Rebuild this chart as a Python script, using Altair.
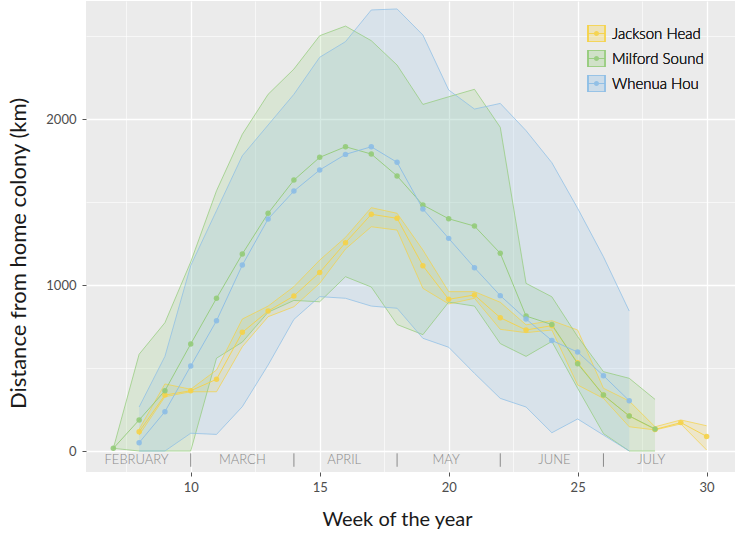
import altair as alt
import pandas as pd

# Sites and their colours
sites = ["Jackson Head", "Milford Sound", "Whenua Hou"]
site_colors = ["#F5D247", "#93CB79", "#8CBDE6"]

# Weekly mean distance from colony (km) and the band around it
jh_weeks = list(range(8, 31))
jh_mean = [116, 337, 363, 432, 715, 843, 934, 1076, 1255, 1426, 1402, 1116, 914, 940, 803, 729, 755, 532, 337, 211, 130, 171, 88]
jh_lo = [96, 327, 357, 357, 628, 809, 869, 1010, 1217, 1351, 1331, 980, 886, 920, 733, 713, 729, 398, 317, 146, 127, 163, 6]
jh_hi = [131, 404, 372, 488, 795, 873, 990, 1150, 1287, 1466, 1432, 1211, 960, 960, 896, 760, 785, 729, 378, 301, 146, 187, 152]

ms_weeks = list(range(7, 29))
ms_mean = [16, 187, 363, 645, 920, 1187, 1432, 1632, 1769, 1833, 1789, 1657, 1482, 1399, 1355, 1191, 813, 762, 526, 337, 211, 133]
ms_lo = [16, 0, 0, 0, 559, 656, 836, 907, 899, 1050, 988, 762, 701, 897, 873, 647, 570, 660, 378, 105, 0, 0]
ms_hi = [16, 583, 773, 1139, 1568, 1908, 2149, 2301, 2502, 2560, 2472, 2325, 2088, 2134, 2179, 1950, 1010, 929, 689, 478, 438, 311]

wh_weeks = list(range(8, 28))
wh_mean = [50, 237, 512, 785, 1120, 1398, 1566, 1693, 1787, 1833, 1739, 1458, 1281, 1104, 936, 795, 666, 596, 454, 303]
wh_lo = [0, 0, 107, 100, 267, 518, 793, 930, 920, 873, 860, 679, 625, 468, 317, 265, 110, 193, 96, 0]
wh_hi = [265, 570, 1117, 1448, 1779, 1964, 2149, 2372, 2466, 2657, 2663, 2506, 2175, 2060, 2094, 1930, 1737, 1462, 1170, 843]

# Month strip along the bottom of the panel
months = ["FEBRUARY", "MARCH", "APRIL", "MAY", "JUNE", "JULY"]
month_mid = [7.9, 12.0, 15.95, 19.9, 24.1, 27.85]
month_breaks = [10, 14, 18, 22, 26]

x_ticks = [7.5, 10, 12.5, 15, 17.5, 20, 22.5, 25, 27.5, 30]
y_ticks = [0, 500, 1000, 1500, 2000, 2500]

rows = []
for site, weeks, mean, lo, hi in [
    (sites[0], jh_weeks, jh_mean, jh_lo, jh_hi),
    (sites[1], ms_weeks, ms_mean, ms_lo, ms_hi),
    (sites[2], wh_weeks, wh_mean, wh_lo, wh_hi),
]:
    for w, m, l, h in zip(weeks, mean, lo, hi):
        rows.append({"week": w, "mean": m, "lo": l, "hi": h,
                     "site": site, "site_f": site, "site_c": site})
df = pd.DataFrame(rows)

months_df = pd.DataFrame({"month": months, "week": month_mid})
breaks_df = pd.DataFrame({"week": month_breaks})

FONT = "Lato"
X_DOMAIN = [5.94, 31.1]
Y_DOMAIN = [-126.5, 2711]

x_axis = alt.Axis(
    values=x_ticks,
    labelExpr="datum.value % 5 === 0 ? datum.label : ''",
    gridColor="white",
    gridWidth={"condition": {"test": "datum.value % 5 === 0", "value": 1.3}, "value": 0.6},
    tickOpacity={"condition": {"test": "datum.value % 5 === 0", "value": 1}, "value": 0},
    domain=False, tickColor="#555555", tickSize=4,
    labelFont=FONT, labelFontSize=13, labelColor="#4d4d4d", labelPadding=5,
    title="Week of the year", titleFont=FONT, titleFontSize=20,
    titleFontWeight="normal", titleColor="#1a1a1a",
    titleX=311, titleY=53, titleBaseline="alphabetic",
)
y_axis = alt.Axis(
    values=y_ticks,
    labelExpr="datum.value % 1000 === 0 ? datum.label : ''",
    gridColor="white",
    gridWidth={"condition": {"test": "datum.value % 1000 === 0", "value": 1.3}, "value": 0.6},
    tickOpacity={"condition": {"test": "datum.value % 1000 === 0", "value": 1}, "value": 0},
    domain=False, tickColor="#555555", tickSize=4, format="d",
    labelFont=FONT, labelFontSize=13, labelColor="#4d4d4d", labelPadding=6,
    title="Distance from home colony (km)", titleFont=FONT, titleFontSize=22,
    titleFontWeight="normal", titleColor="#1a1a1a",
    titleX=-68, titleY=252, titleBaseline="middle",
)

x = alt.X("week:Q", scale=alt.Scale(domain=X_DOMAIN, nice=False, zero=False), axis=x_axis)
y_scale = alt.Scale(domain=Y_DOMAIN, nice=False, zero=False)

legend_common = dict(
    orient="none", legendX=501, legendY=24, title=None, padding=0,
    symbolSize=289, rowPadding=8, labelOffset=6, clipHeight=17,
    labelFont=FONT, labelFontSize=15, labelFontWeight=300,
)

# outlined squares carry the site names
stroke_enc = alt.Stroke(
    "site:N", scale=alt.Scale(range=site_colors),
    legend=alt.Legend(symbolType="square", symbolStrokeWidth=1.2,
                      labelColor="#1a1a1a", **legend_common),
)
# translucent square fill
fill_enc = alt.Fill(
    "site_f:N", scale=alt.Scale(range=site_colors),
    legend=alt.Legend(symbolType="square", symbolOpacity=0.3, symbolStrokeWidth=0,
                      labelExpr="''", **legend_common),
)
# legend glyph: a dot on a short horizontal stroke
dot_path = ("M-1,-1M1,1"
            "M-1,-0.06L1,-0.06L1,0.06L-1,0.06Z"
            "M0.3,0A0.3,0.3,0,1,1,-0.3,0A0.3,0.3,0,1,1,0.3,0Z")
color_enc = alt.Color(
    "site_c:N", scale=alt.Scale(range=site_colors),
    legend=alt.Legend(symbolType=dot_path, labelExpr="''", **legend_common),
)

base = alt.Chart(df)

band = base.mark_area(fillOpacity=0.2).encode(
    x=x,
    y=alt.Y("lo:Q", scale=y_scale, axis=y_axis),
    y2="hi:Q",
    fill=fill_enc,
)
band_lo = base.mark_line(strokeWidth=0.9, opacity=0.8).encode(
    x=x, y=alt.Y("lo:Q", scale=y_scale), stroke=stroke_enc)
band_hi = base.mark_line(strokeWidth=0.9, opacity=0.8).encode(
    x=x, y=alt.Y("hi:Q", scale=y_scale), stroke=stroke_enc)
mean_line = base.mark_line(strokeWidth=1.0, opacity=0.9).encode(
    x=x, y=alt.Y("mean:Q", scale=y_scale), stroke=stroke_enc)
mean_pts = base.mark_circle(size=30, opacity=0.9).encode(
    x=x, y=alt.Y("mean:Q", scale=y_scale), color=color_enc)

month_text = alt.Chart(months_df).mark_text(
    font=FONT, fontSize=13, fontWeight=300, color="#8a8a8a",
    baseline="middle", align="center"
).encode(
    x=alt.X("week:Q", scale=alt.Scale(domain=X_DOMAIN, nice=False, zero=False)),
    y=alt.datum(-54, scale=y_scale),
    text="month:N",
)
month_sep = alt.Chart(breaks_df).mark_rule(color="#8a8a8a", strokeWidth=1).encode(
    x=alt.X("week:Q", scale=alt.Scale(domain=X_DOMAIN, nice=False, zero=False)),
    y=alt.datum(-14, scale=y_scale),
    y2=alt.datum(-95),
)

chart = alt.layer(
    band, band_lo, band_hi, mean_line, mean_pts, month_sep, month_text
).resolve_scale(
    fill="independent", stroke="independent", color="independent"
).properties(
    width=649, height=471,
    padding={"left": 86, "top": 1, "right": 2, "bottom": 61},
    autosize=alt.AutoSizeParams(type="none"),
    background="white",
).configure_view(fill="#EBEBEB", stroke=None)

chart.save("out.html", embed_options={"renderer": "svg", "actions": False})
